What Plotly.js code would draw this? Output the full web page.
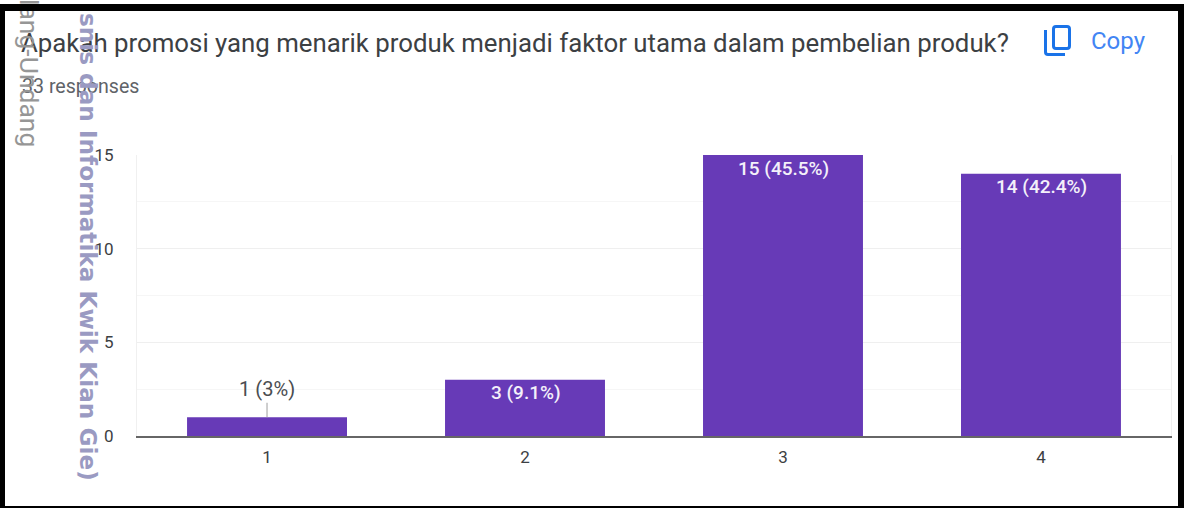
<!DOCTYPE html>
<html><head><meta charset="utf-8">
<script src="https://cdn.plot.ly/plotly-3.0.1.min.js"></script>
<style>
html,body{margin:0;padding:0;background:#fff;overflow:hidden}
#chart{position:absolute;left:0;top:0;width:1184px;height:508px}
#frame{position:absolute;left:0;top:4px;width:1184px;height:504px;box-sizing:border-box;border-style:solid;border-color:#000;border-width:7px 6px 2px 5px;pointer-events:none}
</style></head><body>
<div id="chart"></div><div id="frame"></div>
<script>
const categories = ['1','2','3','4'];
const counts = [1,3,15,14];
const barLabels = ['1 (3%)','3 (9.1%)','15 (45.5%)','14 (42.4%)'];
const yTicks = [0,5,10,15];
const titleText = 'Apakah promosi yang menarik produk menjadi faktor utama dalam pembelian produk?';
const subtitleText = '33 responses';
const copyText = 'Copy';
const watermarkA = 'lang-Undang';
const watermarkB = 'isnis dan Informatika Kwik Kian Gie)';

const W=1184,H=508,L=137,R=1171,T=155,B=436;
const FONT='Roboto, sans-serif';
const px=x=>(x-L)/(R-L), py=y=>(B-y)/(B-T);
const pt=(x,y)=>px(x).toFixed(5)+','+py(y).toFixed(5);

const annotations=[
 {xref:'paper',yref:'paper',x:px(20),y:py(87),xanchor:'left',yanchor:'middle',text:subtitleText,showarrow:false,font:{family:FONT,size:19.6,color:'#5f6368'}},
 {xref:'paper',yref:'paper',x:px(1089),y:py(41),xanchor:'left',yanchor:'middle',text:copyText,showarrow:false,font:{family:FONT,size:24,color:'#4285f4'}},
 {xref:'paper',yref:'paper',x:px(30),y:py(149),xanchor:'center',yanchor:'bottom',text:watermarkA,textangle:90,showarrow:false,font:{family:FONT,size:26.5,color:'#969696',weight:400}},
 {xref:'paper',yref:'paper',x:px(89),y:py(483),xanchor:'center',yanchor:'bottom',text:watermarkB,textangle:90,showarrow:false,font:{family:'"DejaVu Sans", sans-serif',size:23.2,color:'#9a9ac2',weight:700}}
];
categories.forEach((c,i)=>{
  if(i===0){
    annotations.push({x:i,y:counts[i],xref:'x',yref:'y',text:barLabels[i],showarrow:true,arrowhead:0,arrowwidth:1,arrowcolor:'#9e9e9e',ax:0,ay:-28,standoff:0,font:{family:FONT,size:20.1,color:'#4a4d50'}});
  } else {
    annotations.push({x:i,y:counts[i],xref:'x',yref:'y',text:barLabels[i],showarrow:false,yanchor:'middle',yshift:-13,xshift:0.5,font:{family:FONT,size:19,color:'#f4f0fa',weight:500}});
  }
});

const shapes=[
 {type:'path',xref:'paper',yref:'paper',path:'M'+pt(1053.5,29)+'Q'+pt(1053.5,26.5)+' '+pt(1056,26.5)+'H'+px(1067)+'Q'+pt(1069.5,26.5)+' '+pt(1069.5,29)+'V'+py(46)+'Q'+pt(1069.5,48.5)+' '+pt(1067,48.5)+'H'+px(1056)+'Q'+pt(1053.5,48.5)+' '+pt(1053.5,46)+'Z',line:{color:'#1a73e8',width:3},fillcolor:'rgba(0,0,0,0)',layer:'above'},
 {type:'path',xref:'paper',yref:'paper',path:'M'+pt(1045.5,30)+'V'+py(52)+'Q'+pt(1045.5,54.5)+' '+pt(1048,54.5)+'H'+px(1065),line:{color:'#1a73e8',width:3},fillcolor:'rgba(0,0,0,0)',layer:'above'}
];

Plotly.newPlot('chart',[{
  type:'bar',x:categories,y:counts,width:0.62,
  marker:{color:'#673ab7',line:{width:0}},hoverinfo:'skip'
}],{
  width:W,height:H,
  margin:{l:L,r:W-R,t:T,b:H-B,pad:0},
  paper_bgcolor:'#fff',plot_bgcolor:'#fff',showlegend:false,
  title:{text:titleText,x:21/W,xanchor:'left',xref:'container',yref:'container',y:1-43/H,yanchor:'middle',font:{family:FONT,size:25.8,color:'#3c4043'}},
  xaxis:{type:'category',range:[-0.504,3.504],showgrid:false,zeroline:false,showline:true,linecolor:'#666',linewidth:1.5,ticks:'',ticklabelstandoff:5,tickfont:{family:FONT,size:17,color:'#3c4043'}},
  yaxis:{range:[0,15],tickvals:yTicks,showgrid:true,gridcolor:'#efefef',gridwidth:1.5,zeroline:false,showline:true,linecolor:'#f0f0f0',linewidth:1,mirror:true,ticks:'',ticklabelstandoff:19,tickfont:{family:FONT,size:17,color:'#3c4043'},
    minor:{tickvals:[2.5,7.5,12.5],showgrid:true,gridcolor:'#f6f6f6',gridwidth:1}},
  annotations,shapes
},{displayModeBar:false,staticPlot:true});
</script></body></html>
